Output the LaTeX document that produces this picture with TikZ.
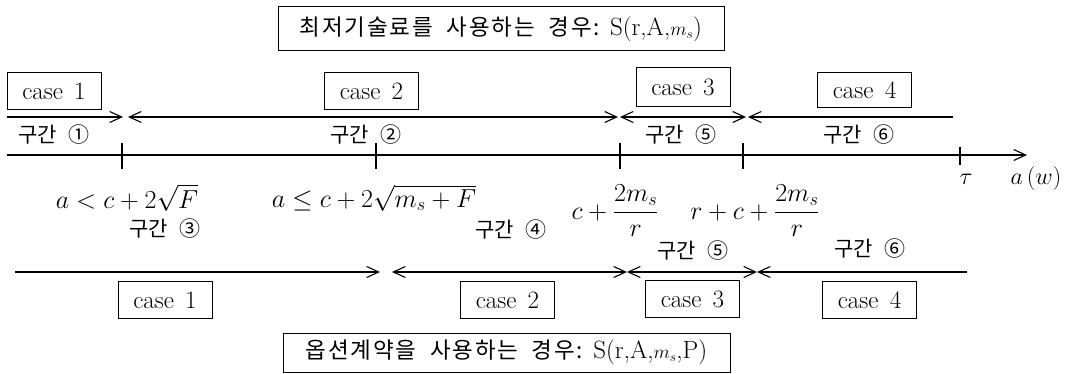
\RequirePackage{fix-cm}
\documentclass[tikz,border=0pt]{standalone}
\usepackage{amsmath}
\usepackage{fontspec}
\usetikzlibrary{arrows.meta}
\newfontfamily\kr[WordSpace=2.4]{Noto Sans CJK KR}
\newfontfamily\krt[WordSpace=2.0,LetterSpace=8]{Noto Sans CJK KR}
\begin{document}
\begin{tikzpicture}[x=1pt,y=-1pt,line width=1.1pt,
  chev/.tip={Straight Barb[length=12pt,width=11pt]},
  casebox/.style={draw,line width=1pt,minimum width=94pt,minimum height=37pt,inner sep=0pt,font=\fontsize{25}{29}\selectfont},
  titlebox/.style={draw,line width=1pt,minimum width=446pt,minimum height=44pt,inner sep=0pt,font=\fontsize{25}{29}\selectfont},
  seg/.style={inner sep=0pt,font=\kr\fontsize{21}{24}\selectfont},
  mlabel/.style={anchor=base,inner sep=0pt,font=\fontsize{26}{30}\selectfont},
  tick/.style={line width=1.1pt}]
\useasboundingbox (0,0) rectangle (1075,374);
% titles
\node[titlebox] (ttop) at (501,29) {{\krt\fontsize{22.5}{27}\selectfont 최저기술료를 사용하는 경우:} S(r,A,{\fontsize{19}{21}\selectfont$m_s$})};
\node[titlebox,minimum width=447pt,minimum height=39pt] (tbot) at (506.5,352.5) {{\krt\fontsize{22.5}{27}\selectfont 옵션계약을 사용하는 경우:} S(r,A,{\fontsize{19}{21}\selectfont$m_s$},P)};
% top cases
\node[casebox] (c1t) at (54,91.5) {case\hspace{0.45em}1};
\node[casebox] (c2t) at (371.5,91.5) {case\hspace{0.45em}2};
\node[casebox,minimum height=39pt] (c3t) at (683,87.5) {case\hspace{0.45em}3};
\node[casebox,minimum height=35pt] (c4t) at (864.5,90.5) {case\hspace{0.45em}4};
% top arrows
\coordinate (t0) at (7,117);
\coordinate (t1) at (123,117);
\coordinate (t2) at (128,117);
\coordinate (t3) at (618,117);
\coordinate (t4) at (620,117);
\coordinate (t5) at (746,117);
\coordinate (t6) at (748,117);
\coordinate (t7) at (953,117);
\draw[-chev] (t0) -- (t1);
\draw[chev-chev] (t2) -- (t3);
\draw[chev-chev] (t4) -- (t5);
\draw[chev-] (t6) -- (t7);
% top segment labels
\node[seg] (s1) at (54,135) {구간 ①};
\node[seg] (s2) at (366,135) {구간 ②};
\node[seg] (s5) at (681,135) {구간 ⑤};
\node[seg] (s6) at (859,135) {구간 ⑥};
% axis
\coordinate (ax0) at (7,155);
\coordinate (ax1) at (1027,155);
\draw[-chev] (ax0) -- (ax1);
\foreach \n/\x in {1/122,2/376,3/620,4/743}{
  \coordinate (k\n a) at (\x,143);
  \coordinate (k\n b) at (\x,169);
  \draw[tick] (k\n a) -- (k\n b);
}
\coordinate (k5a) at (960,147);
\coordinate (k5b) at (960,165);
\draw[tick] (k5a) -- (k5b);
\node[mlabel,font=\fontsize{24}{28}\selectfont] (tau) at (966,184) {$\tau$};
\node[mlabel,font=\fontsize{24}{28}\selectfont] (aw) at (1036,184) {$a\,(w)$};
% thresholds
\node[mlabel] (m1) at (127,208) {$a<c+2\sqrt{F}$};
\node[mlabel] (m2) at (374,207) {$a\le c+2\sqrt{m_s+F}$};
\node[mlabel] (m3) at (615,219) {$c+\dfrac{2m_s}{r}$};
\node[mlabel] (m4) at (755,219) {$r+c+\dfrac{2m_s}{r}$};
% bottom segment labels
\node[seg] (s3b) at (165,229) {구간 ③};
\node[seg] (s4b) at (511,230) {구간 ④};
\node[seg] (s5b) at (693,251) {구간 ⑤};
\node[seg] (s6b) at (870,249) {구간 ⑥};
% bottom arrows
\coordinate (b0) at (15,272);
\coordinate (b1) at (380,272);
\coordinate (b2) at (392,272);
\coordinate (b3) at (627,272);
\coordinate (b4) at (757,272);
\coordinate (b5) at (967,272);
\draw[-chev] (b0) -- (b1);
\draw[chev-chev] (b2) -- (b3);
\draw[chev-chev] (b3) -- (b4);
\draw[chev-] (b4) -- (b5);
% bottom cases
\node[casebox] (c1b) at (165,300) {case\hspace{0.45em}1};
\node[casebox] (c2b) at (507.5,300) {case\hspace{0.45em}2};
\node[casebox] (c3b) at (692.5,299) {case\hspace{0.45em}3};
\node[casebox] (c4b) at (869.5,300) {case\hspace{0.45em}4};
\end{tikzpicture}
\end{document}
